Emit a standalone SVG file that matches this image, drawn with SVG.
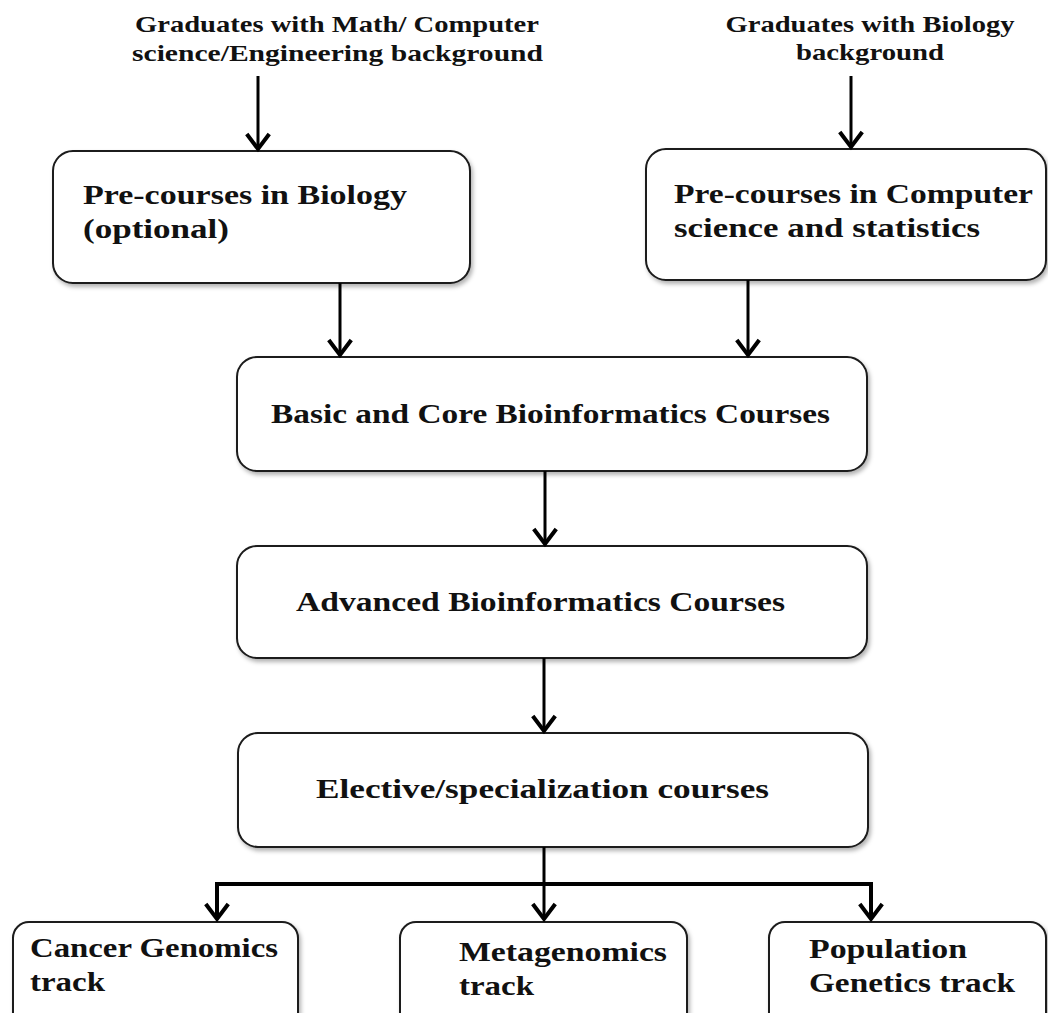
<svg xmlns="http://www.w3.org/2000/svg" width="1048" height="1013" viewBox="0 0 1048 1013">
<defs>
<filter id="sh" x="-5%" y="-5%" width="115%" height="120%">
<feDropShadow dx="2" dy="3" stdDeviation="2" flood-color="#000" flood-opacity="0.3"/>
</filter>
<marker id="ah" markerUnits="userSpaceOnUse" markerWidth="30" markerHeight="30" viewBox="-16 -12 20 24" refX="0" refY="0" orient="auto">
<path d="M-12,-9 L0,0 L-12,9" fill="none" stroke="#000" stroke-width="3.2" stroke-linejoin="miter"/>
</marker>
<style>
.box{fill:#fff;stroke:#1a1a1a;stroke-width:2;filter:url(#sh)}
.t{font-family:"Liberation Serif","DejaVu Serif",serif;font-weight:bold;font-size:27px;fill:#111}
.h{font-family:"Liberation Serif","DejaVu Serif",serif;font-weight:bold;font-size:24px;fill:#111}
.c{fill:none;stroke:#000;stroke-width:3}
</style>
</defs>
<rect width="1048" height="1013" fill="#fff"/>

<g id="src-math">
<text class="h" x="337" y="32" text-anchor="middle" textLength="404" lengthAdjust="spacingAndGlyphs">Graduates with Math/ Computer</text>
<text class="h" x="337.5" y="61" text-anchor="middle" textLength="411" lengthAdjust="spacingAndGlyphs">science/Engineering background</text>
</g>
<g id="src-bio">
<text class="h" x="870" y="32" text-anchor="middle" textLength="289" lengthAdjust="spacingAndGlyphs">Graduates with Biology</text>
<text class="h" x="870" y="60" text-anchor="middle" textLength="148" lengthAdjust="spacingAndGlyphs">background</text>
</g>

<g id="pre-bio">
<rect class="box" x="53" y="151" width="417" height="132" rx="20"/>
<text class="t" x="83" y="204" textLength="324" lengthAdjust="spacingAndGlyphs">Pre-courses in Biology</text>
<text class="t" x="83" y="238" textLength="146" lengthAdjust="spacingAndGlyphs">(optional)</text>
</g>
<g id="pre-cs">
<rect class="box" x="646" y="149" width="400" height="131" rx="20"/>
<text class="t" x="674" y="203" textLength="359" lengthAdjust="spacingAndGlyphs">Pre-courses in Computer</text>
<text class="t" x="674" y="237" textLength="306" lengthAdjust="spacingAndGlyphs">science and statistics</text>
</g>
<g id="core">
<rect class="box" x="237" y="357" width="630" height="114" rx="20"/>
<text class="t" x="271" y="423" textLength="559" lengthAdjust="spacingAndGlyphs">Basic and Core Bioinformatics Courses</text>
</g>
<g id="advanced">
<rect class="box" x="237" y="546" width="630" height="112" rx="20"/>
<text class="t" x="296" y="611" textLength="489" lengthAdjust="spacingAndGlyphs">Advanced Bioinformatics Courses</text>
</g>
<g id="elective">
<rect class="box" x="238" y="733" width="630" height="114" rx="20"/>
<text class="t" x="316" y="798" textLength="453" lengthAdjust="spacingAndGlyphs">Elective/specialization courses</text>
</g>
<g id="cancer">
<rect class="box" x="13" y="922" width="285" height="120" rx="16"/>
<text class="t" x="30" y="957" textLength="248" lengthAdjust="spacingAndGlyphs">Cancer Genomics</text>
<text class="t" x="30" y="991" textLength="75" lengthAdjust="spacingAndGlyphs">track</text>
</g>
<g id="meta">
<rect class="box" x="400" y="922" width="287" height="120" rx="16"/>
<text class="t" x="459" y="961" textLength="208" lengthAdjust="spacingAndGlyphs">Metagenomics</text>
<text class="t" x="459" y="995" textLength="75" lengthAdjust="spacingAndGlyphs">track</text>
</g>
<g id="popgen">
<rect class="box" x="769" y="922" width="277" height="120" rx="16"/>
<text class="t" x="809" y="958" textLength="158" lengthAdjust="spacingAndGlyphs">Population</text>
<text class="t" x="809" y="992" textLength="206" lengthAdjust="spacingAndGlyphs">Genetics track</text>
</g>

<g id="connectors">
<line class="c" x1="258" y1="76" x2="258" y2="149" marker-end="url(#ah)"/>
<line class="c" x1="851" y1="76" x2="851" y2="147" marker-end="url(#ah)"/>
<line class="c" x1="340" y1="283" x2="340" y2="355" marker-end="url(#ah)"/>
<line class="c" x1="748" y1="280" x2="748" y2="355" marker-end="url(#ah)"/>
<line class="c" x1="545" y1="471" x2="545" y2="544" marker-end="url(#ah)"/>
<line class="c" x1="544" y1="658" x2="544" y2="731" marker-end="url(#ah)"/>
<line class="c" x1="544" y1="847" x2="544" y2="919" marker-end="url(#ah)"/>
<polyline class="c" style="stroke-width:4" points="217,919 217,884 871,884 871,919"/>
<line class="c" x1="217" y1="900" x2="217" y2="919" marker-end="url(#ah)"/>
<line class="c" x1="871" y1="900" x2="871" y2="919" marker-end="url(#ah)"/>
</g>
</svg>
